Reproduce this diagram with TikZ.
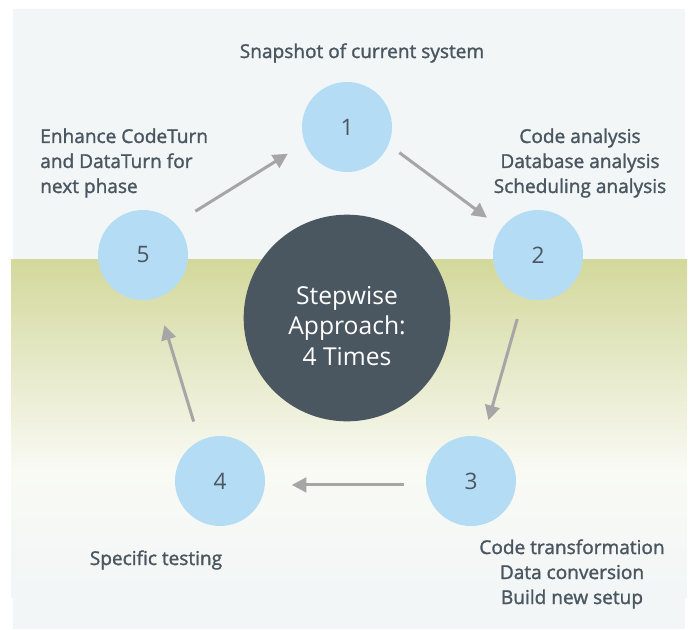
\documentclass[tikz,border=0pt]{standalone}
\usepackage{fontspec}
\setmainfont{Open Sans}
\newfontfamily\notefont{Open Sans}[FakeBold=1.5]
\usetikzlibrary{arrows.meta}

\definecolor{slate}{HTML}{4A5660}
\definecolor{stepblue}{HTML}{B5DCF5}
\definecolor{arrowgray}{HTML}{A6A6A6}
\definecolor{panelgray}{HTML}{F2F6F7}
\definecolor{olive}{RGB}{211,216,155}
\definecolor{paleband}{RGB}{249,250,244}

\begin{document}
\begin{tikzpicture}[x=0.75pt, y=-0.75pt,
    stepnode/.style={circle, fill=stepblue, text=slate, minimum size=67.5pt, inner sep=0pt, font=\fontsize{17}{20}\selectfont},
    hubnode/.style={circle, fill=slate, minimum size=155pt, inner sep=0pt},
    hubtext/.style={text=white, inner sep=0pt, align=center, font=\fontsize{18.5}{23}\selectfont},
    note/.style={text=slate, inner sep=0pt, font=\notefont\fontsize{14.3}{18.75}\selectfont},
    steparrow/.style={draw=arrowgray, line width=2.25pt, -{Triangle[length=11pt, width=11pt]}}]

    \useasboundingbox (0,0) rectangle (691,629);

    % background bands
    \fill[panelgray] (13,9) rectangle (685,259);
    \fill[top color=olive, bottom color=paleband] (11,259) rectangle (687,470);
    \fill[top color=paleband, bottom color=panelgray] (11,470) rectangle (687,597);
    \fill[panelgray] (13,597) rectangle (685,629);

    % the cycle
    \node[hubnode] (hub) at (347,318) {};
    \node[hubtext] (hubtxt) at (347,326) {Stepwise\\Approach:\\4 Times};
    \node[stepnode] (s1) at (347,127) {1};
    \node[stepnode] (s2) at (538,255) {2};
    \node[stepnode] (s3) at (471,481) {3};
    \node[stepnode] (s4) at (220,481) {4};
    \node[stepnode] (s5) at (143,255) {5};

    \draw[steparrow, shorten <=10pt, shorten >=13.5pt] (s1.337) -- (s2.144);
    \draw[steparrow, shorten <=16.5pt, shorten >=13.5pt] (s2.251) -- (s3.74);
    \draw[steparrow, shorten <=16.5pt, shorten >=20pt] (s3.185) -- (s4.355);
    \draw[steparrow, shorten <=15pt, shorten >=21pt] (s4.117) -- (s5.287);
    \draw[steparrow, shorten <=17.5pt, shorten >=15pt] (s5.44) -- (s1.201);

    % step descriptions
    \node[note] (t1) at (362,53) {Snapshot of current system};
    \node[note, align=center] (t2) at (580,163) {Code analysis\\Database analysis\\Scheduling analysis};
    \node[note, align=center] (t3) at (572,574) {Code transformation\\Data conversion\\Build new setup};
    \node[note] (t4) at (156,560) {Specific testing};
    \node[note, align=left, anchor=west] (t5) at (40,163) {Enhance CodeTurn\\and DataTurn for\\next phase};
\end{tikzpicture}
\end{document}
